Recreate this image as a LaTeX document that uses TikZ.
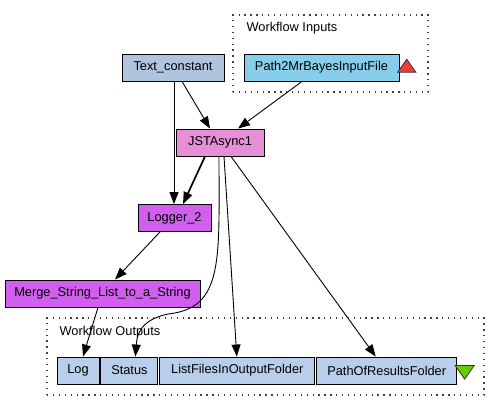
\documentclass[tikz,border=0pt]{standalone}
\usepackage{fontspec}
\setmainfont{Liberation Sans}
\usetikzlibrary{positioning, arrows.meta, shapes.geometric}

\definecolor{constfill}{RGB}{176,196,222}
\definecolor{inputfill}{RGB}{135,206,235}
\definecolor{jstfill}{RGB}{230,142,214}
\definecolor{workerfill}{RGB}{209,95,238}
\definecolor{outputfill}{RGB}{185,206,234}
\definecolor{upred}{RGB}{238,58,58}
\definecolor{downgreen}{RGB}{102,205,0}

\tikzset{
  proc/.style={draw, line width=0.9pt, inner sep=0pt, minimum height=27pt,
    font=\fontsize{12.8}{14}\selectfont},
  port/.style={proc, fill=outputfill},
  group/.style={draw=black!75, line width=1.3pt, dash pattern=on 1.3pt off 4.6pt,
    inner sep=0pt},
  grouplabel/.style={anchor=west, font=\fontsize{12.8}{14}\selectfont},
  flow/.style={-{Triangle[length=12pt,width=9pt]}, line width=0.9pt}
}

\begin{document}
\begin{tikzpicture}[x=1pt,y=-1pt]
\useasboundingbox (0,0) rectangle (500,411);

% workflow inputs
\node[group, minimum width=195pt, minimum height=77pt] (inbox) at (330.5,53.5) {};
\node[grouplabel] (inlabel) at (243,28) {Workflow Inputs};
\node[proc, fill=inputfill, minimum width=155pt] (inp) at (321.5,67.5) {Path2MrBayesInputFile};
\node[isosceles triangle, shape border rotate=90, draw=black!80, fill=upred,
  line width=0.8pt, inner sep=0pt, minimum width=18pt, minimum height=13pt,
  isosceles triangle apex angle=70, right=1pt of inp] (uptri) {};

% processors
\node[proc, fill=constfill, minimum width=102pt] (txt) at (173,67.5) {Text\_constant};
\node[proc, fill=jstfill, minimum width=88pt] (jst) at (220,142.5) {JSTAsync1};
\node[proc, fill=workerfill, minimum width=73pt] (logr) at (174.5,218) {Logger\_2};
\node[proc, fill=workerfill, minimum width=195pt] (merge) at (102.5,293.5) {Merge\_String\_List\_to\_a\_String};

% workflow outputs
\node[group, minimum width=437pt, minimum height=77pt] (outbox) at (265.5,356.5) {};
\node[grouplabel] (outlabel) at (56,332) {Workflow Outputs};
\node[port, minimum width=42pt] (log) at (78,370.5) {Log};
\node[port, minimum width=57pt, right=1pt of log] (status) {Status};
\node[port, minimum width=155pt, right=1pt of status] (lst) {ListFilesInOutputFolder};
\node[port, minimum width=140pt, right=1pt of lst] (res) {PathOfResultsFolder};
\node[isosceles triangle, shape border rotate=-90, draw=black!80, fill=downgreen,
  line width=0.8pt, inner sep=0pt, minimum width=19pt, minimum height=13pt,
  isosceles triangle apex angle=70, right=1pt of res] (downtri) {};

% links
\draw[flow] ([xshift=9pt]txt.south) -- ([xshift=-10pt]jst.north);
\draw[flow] ([xshift=-19.5pt]inp.south) -- ([xshift=18pt]jst.north);
\draw[flow] ([xshift=1pt]txt.south) -- ([xshift=-0.5pt]logr.north);
\draw[flow, line width=1.7pt] ([xshift=-15pt]jst.south) -- ([xshift=8.5pt]logr.north);
\draw[flow] ([xshift=-14.5pt]logr.south) -- ([xshift=12.5pt]merge.north);
\draw[flow] ([xshift=-4.5pt]merge.south) -- ([xshift=5pt]log.north);
\coordinate (sbend) at (168,314);
\draw[flow] ([xshift=-1pt]jst.south) .. controls (219,260) and (224,308) .. (sbend)
  .. controls (140,320) and (137,335) .. ([xshift=6pt]status.north);
\draw[flow] ([xshift=4pt]jst.south) -- ([xshift=-0.5pt]lst.north);
\draw[flow] ([xshift=11pt]jst.south) -- ([xshift=-11pt]res.north);
\end{tikzpicture}
\end{document}
